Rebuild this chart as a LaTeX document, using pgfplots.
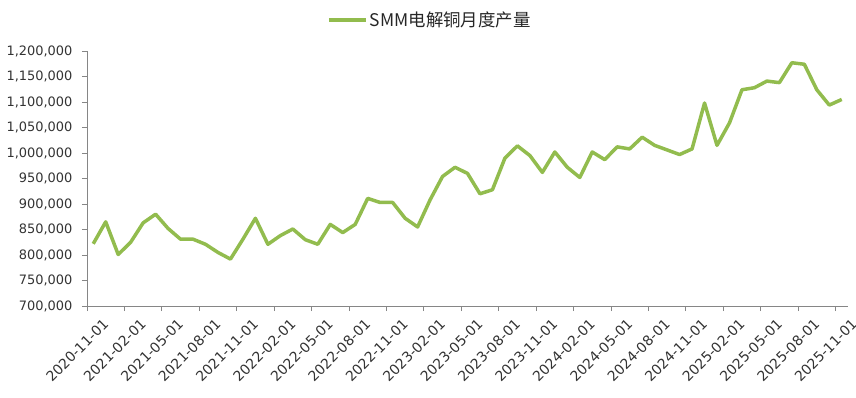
\documentclass[border=0pt]{standalone}
\usepackage{pgfplots}
\pgfplotsset{compat=1.18}
\usepackage{fontspec}
\setmainfont{DejaVu Sans}
\newfontfamily\cjk{Noto Sans CJK SC}
\definecolor{linegreen}{RGB}{146,188,78}
\definecolor{axgray}{RGB}{134,134,134}
\begin{document}
\begin{tikzpicture}
\begin{axis}[
  at={(0,0)}, anchor=south west,
  scale only axis, width=761bp, height=255bp,
  xmin=-0.5, xmax=60.5, ymin=700000, ymax=1200000,
  axis x line*=bottom, axis y line*=left,
  axis line style={draw=axgray, line width=0.8bp},
  tick align=outside,
  tick style={draw=axgray, line width=0.8bp},
  xtick={0,3,...,60},
  xticklabels={2020-11-01,2021-02-01,2021-05-01,2021-08-01,2021-11-01,2022-02-01,2022-05-01,2022-08-01,2022-11-01,2023-02-01,2023-05-01,2023-08-01,2023-11-01,2024-02-01,2024-05-01,2024-08-01,2024-11-01,2025-02-01,2025-05-01,2025-08-01,2025-11-01},
  major x tick style={draw=none},
  minor xtick={-0.5,2.5,...,59.5},
  minor tick length=5bp,
  major tick length=5bp,
  ytick={700000,750000,...,1200000},
  /pgf/number format/.cd, fixed, 1000 sep={,}, assume math mode=true,
  /pgfplots/.cd,
  scaled y ticks=false,
  yticklabel style={font=\fontsize{13}{15}\selectfont, text=black!80, xshift=-6bp},
  xticklabel style={font=\fontsize{14}{16}\selectfont, text=black!80, inner sep=1bp, rotate=45, anchor=east, xshift=2.5bp, yshift=-16.5bp},
  legend style={draw=none, fill=none, at={(0.315,1.122)}, anchor=west, font=\cjk\fontsize{17.5}{19}\selectfont, text=black!85, inner sep=0pt},
  legend image code/.code={\draw[line width=4bp, linegreen] (0bp,0bp) -- (37bp,0bp);},
]
\addplot[linegreen, line width=3.5bp, line join=round, mark=none] table[x=i, y=v] {
i v
0 822000
1 865000
2 801000
3 825000
4 863000
5 880000
6 852000
7 831000
8 831000
9 821000
10 805000
11 792000
12 831000
13 872000
14 821000
15 838000
16 851000
17 830000
18 821000
19 860000
20 844000
21 860000
22 911000
23 903000
24 903000
25 872000
26 855000
27 908000
28 954000
29 972000
30 960000
31 920000
32 928000
33 990000
34 1014000
35 995000
36 962000
37 1002000
38 972000
39 952000
40 1002000
41 987000
42 1012000
43 1008000
44 1031000
45 1015000
46 1006000
47 997000
48 1008000
49 1098000
50 1015000
51 1059000
52 1124000
53 1128000
54 1141000
55 1138000
56 1177000
57 1174000
58 1124000
59 1094000
60 1105000
};
\addlegendentry{SMM电解铜月度产量}
\end{axis}
\pgfresetboundingbox
\path[use as bounding box] (-87bp,-92bp) rectangle (769bp,306bp);
\end{tikzpicture}
\end{document}
